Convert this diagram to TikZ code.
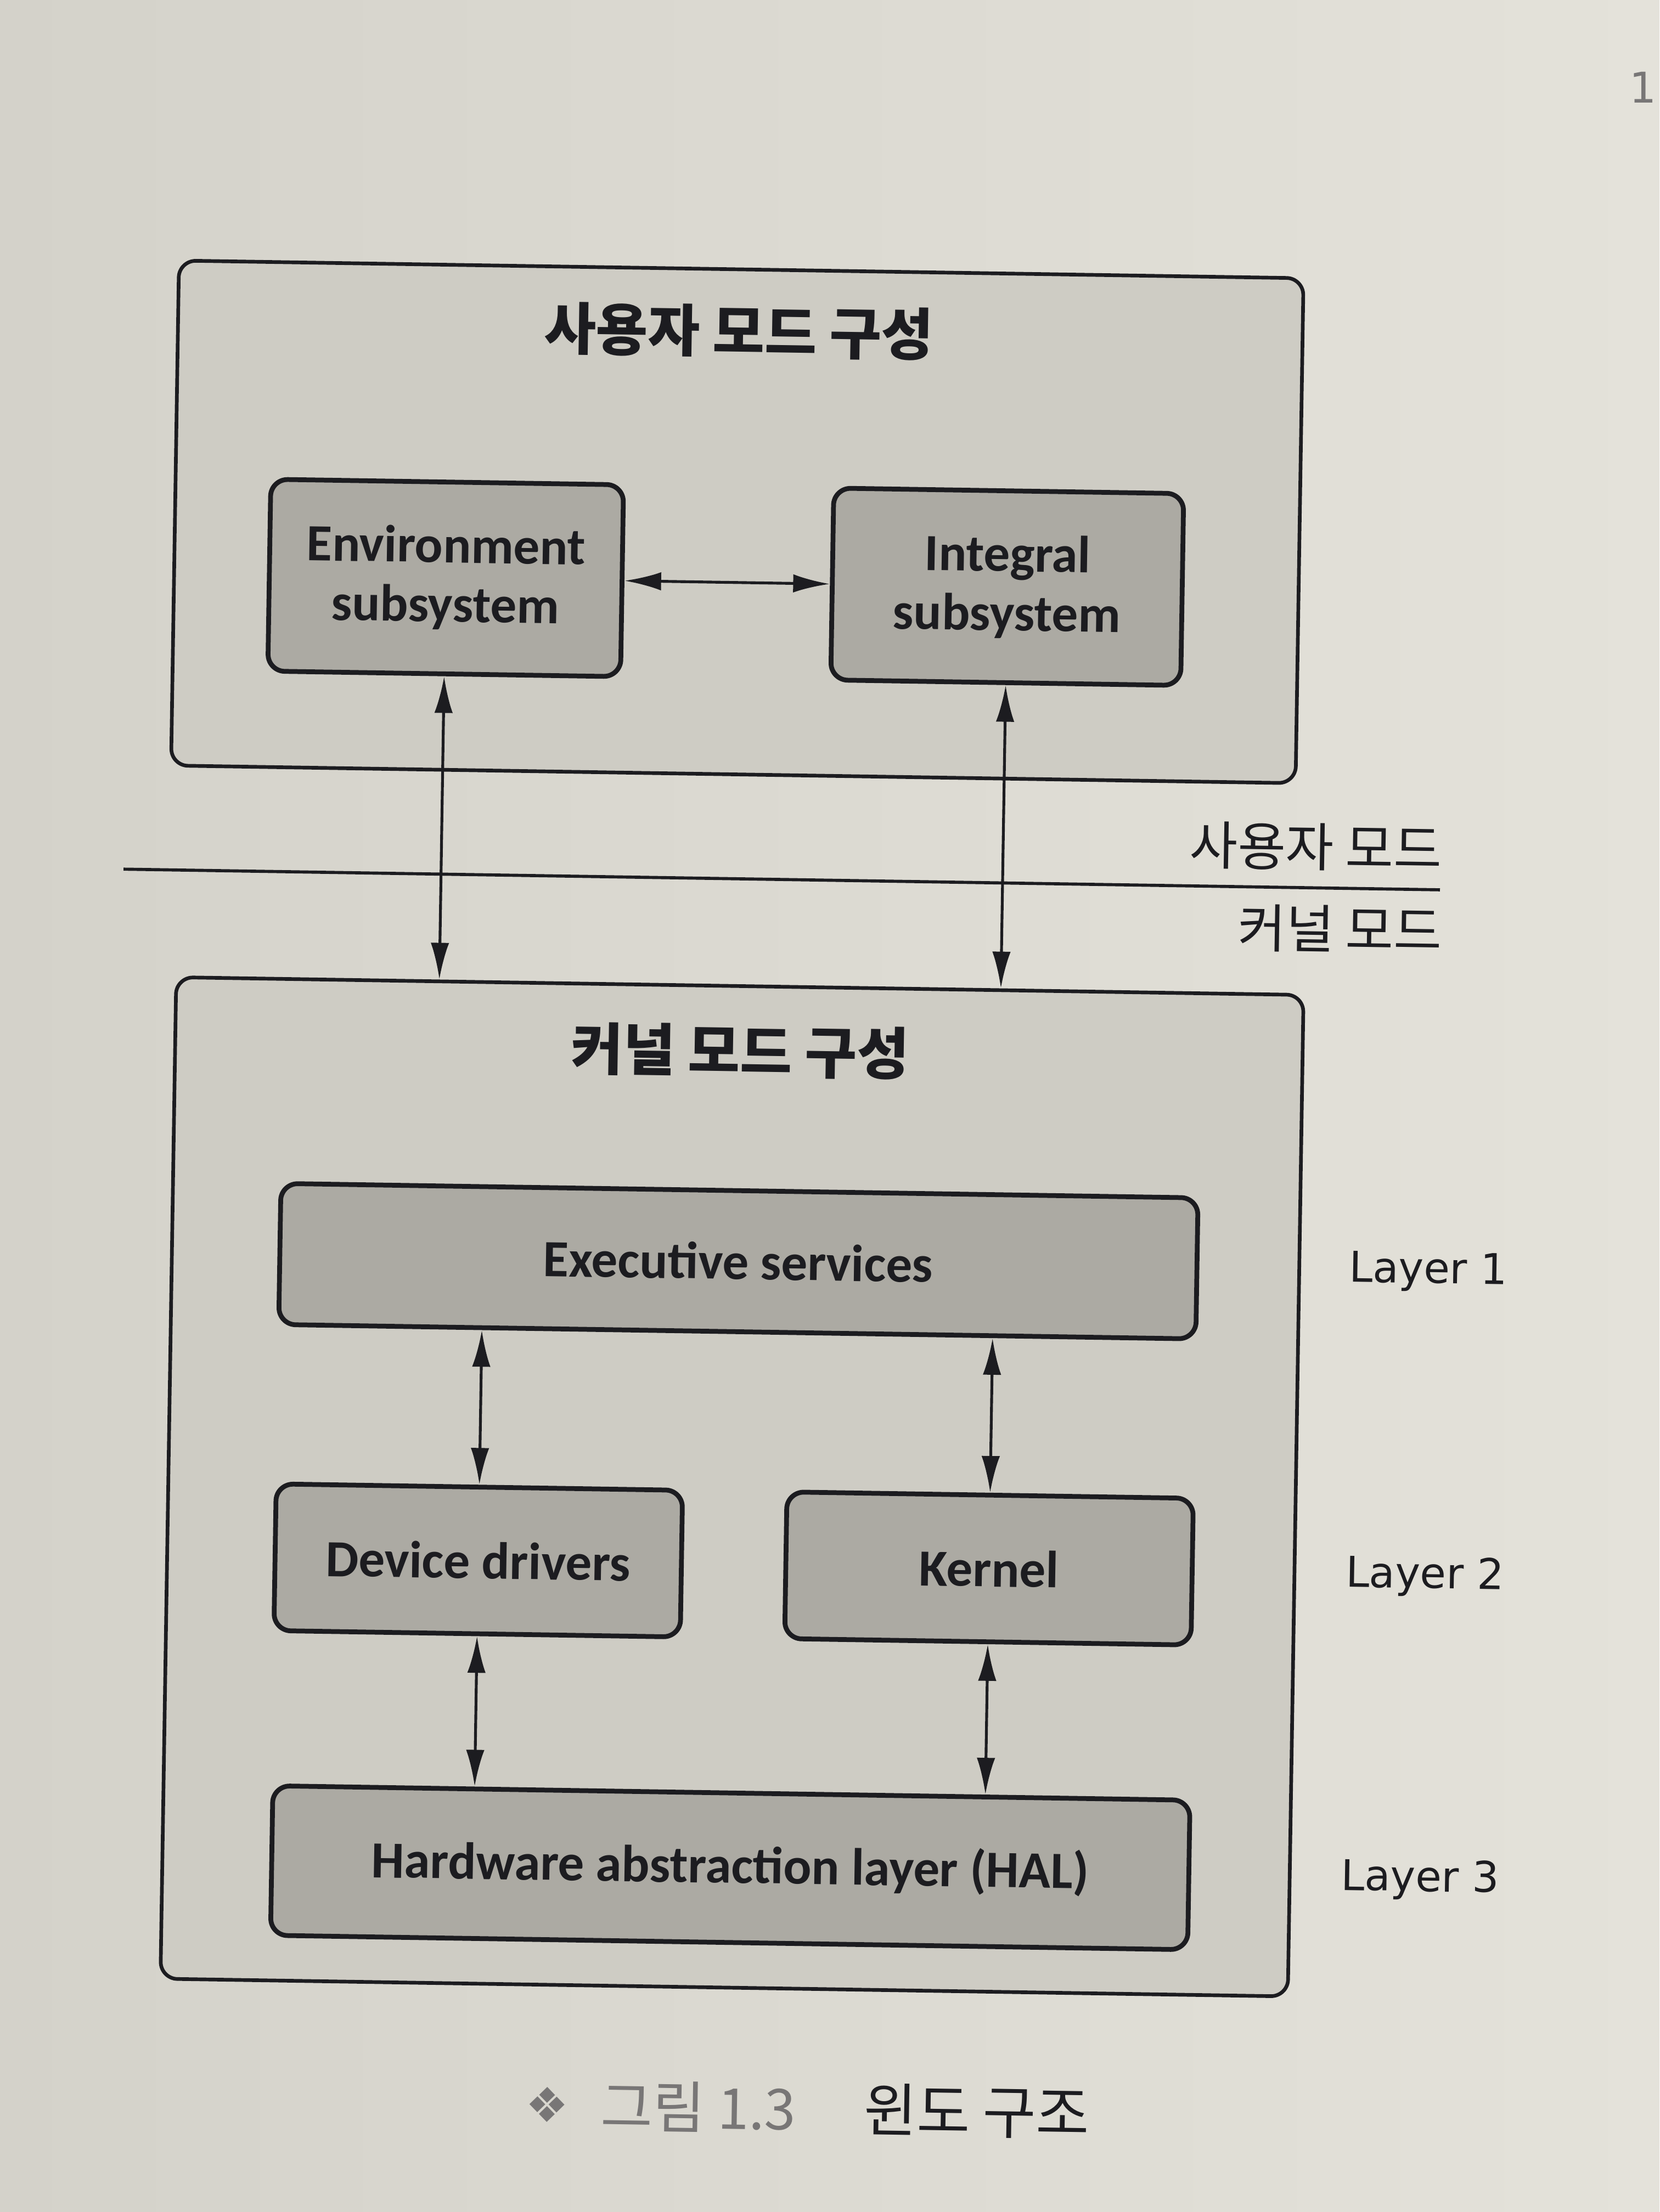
\documentclass[tikz,border=0pt]{standalone}
\usepackage{fontspec}
\setmainfont{Carlito}
\newfontfamily\kr{Noto Sans CJK KR}
\newfontfamily\lay{DejaVu Sans}
\usetikzlibrary{arrows.meta}
\definecolor{paperL}{RGB}{212,210,202}
\definecolor{paperR}{RGB}{228,226,218}
\definecolor{outerfill}{RGB}{206,204,196}
\definecolor{innerfill}{RGB}{172,170,163}
\definecolor{ink}{RGB}{28,28,32}
\definecolor{capgray}{RGB}{120,118,118}
\begin{document}
\begin{tikzpicture}[x=1pt,y=-1pt,
  outerbox/.style={draw=ink, line width=2.6pt, fill=outerfill, rounded corners=12pt, inner sep=0pt},
  innerbox/.style={draw=ink, line width=3.4pt, fill=innerfill, rounded corners=12pt, inner sep=0pt,
    align=center, text=ink, font=\bfseries\fontsize{37}{42}\selectfont},
  titletext/.style={text=ink, font=\kr\bfseries\fontsize{40}{44}\selectfont},
  modetext/.style={text=ink, font=\kr\fontsize{37}{40}\selectfont, inner sep=0pt},
  layertext/.style={text=ink, font=\lay\fontsize{30}{34}\selectfont},
  conn/.style={draw=ink, line width=2pt, {Latex[length=26pt,width=13pt]}-{Latex[length=26pt,width=13pt]}},
  divider/.style={draw=ink, line width=2.2pt}]
\useasboundingbox (0,0) rectangle (1176,1568);
\shade[left color=paperL, right color=paperR] (0,0) rectangle (1176,1568);
\node[text=capgray, font=\lay\fontsize{30}{34}\selectfont, anchor=east, inner sep=0pt] (pageno) at (1174,62) {1};
\begin{scope}[rotate around={-0.9:(588,784)}, transform shape]
  % user mode
  \node[outerbox, minimum width=797pt, minimum height=358pt] (ubox) at (516,371) {};
  \node[titletext] (utitle) at (515,236) {사용자 모드 구성};
  \node[innerbox, minimum width=250pt, minimum height=136pt] (env) at (310,414) {Environment\\subsystem};
  \node[innerbox, minimum width=248pt, minimum height=136pt] (int) at (708,414) {Integral\\subsystem};
  % divider
  \coordinate (dl) at (85,624);
  \coordinate (dr) at (1018,624);
  \draw[divider] (dl) -- (dr);
  \node[modetext, anchor=east] (umode) at (1019,595) {사용자 모드};
  \node[modetext, anchor=east] (kmode) at (1020,653) {커널 모드};
  % kernel mode
  \node[outerbox, minimum width=799pt, minimum height=710pt] (kbox) at (523,1055) {};
  \node[titletext] (ktitle) at (524,746) {커널 모드 구성};
  \node[innerbox, minimum width=650pt, minimum height=100pt] (exec) at (525,895) {Executive services};
  \node[innerbox, minimum width=288pt, minimum height=104pt] (dev) at (344,1110) {Device drivers};
  \node[innerbox, minimum width=288pt, minimum height=104pt] (kern) at (706,1110) {Kernel};
  \node[innerbox, minimum width=650pt, minimum height=106pt] (hal) at (526,1325) {Hardware abstraction layer (HAL)};
  \node[layertext] (l1) at (1014,895) {Layer 1};
  \node[layertext] (l2) at (1015,1111) {Layer 2};
  \node[layertext] (l3) at (1015,1326) {Layer 3};
  % connectors
  \draw[conn] (env.east) -- (int.west);
  \draw[conn] (env.south) -- (env.south |- kbox.north);
  \draw[conn] (int.south) -- (int.south |- kbox.north);
  \draw[conn] (exec.south -| dev.north) -- (dev.north);
  \draw[conn] (exec.south -| kern.north) -- (kern.north);
  \draw[conn] (dev.south) -- (dev.south |- hal.north);
  \draw[conn] (kern.south) -- (kern.south |- hal.north);
  % caption
  \node[text=capgray, font=\lay\fontsize{34}{38}\selectfont] (capsym) at (399,1495) {❖};
  \node[text=capgray, font=\kr\fontsize{40}{44}\selectfont, anchor=west, inner sep=0pt] (capnum) at (437,1495) {그림 1.3};
  \node[text=ink, font=\kr\fontsize{41}{44}\selectfont, anchor=west, inner sep=0pt] (captxt) at (623,1495) {윈도 구조};
\end{scope}
\end{tikzpicture}
\end{document}
